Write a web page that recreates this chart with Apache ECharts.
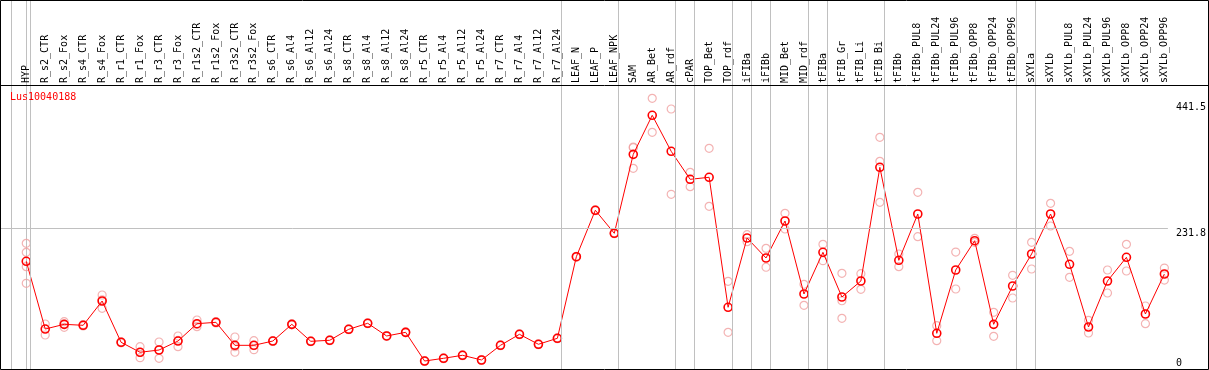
<!DOCTYPE html>
<html>
<head>
<meta charset="utf-8">
<script src="https://cdn.jsdelivr.net/npm/echarts@6/dist/echarts.min.js"></script>
<style>
  html, body { margin: 0; padding: 0; background: #fff; }
  #chart { width: 1209px; height: 370px; }
</style>
</head>
<body>
<div id="chart"></div>
<script>
const geneId = 'Lus10040188';

const categories = [
  'HYP','R_s2_CTR','R_s2_Fox','R_s4_CTR','R_s4_Fox','R_r1_CTR','R_r1_Fox','R_r3_CTR','R_r3_Fox',
  'R_r1s2_CTR','R_r1s2_Fox','R_r3s2_CTR','R_r3s2_Fox','R_s6_CTR','R_s6_Al4','R_s6_Al12','R_s6_Al24',
  'R_s8_CTR','R_s8_Al4','R_s8_Al12','R_s8_Al24','R_r5_CTR','R_r5_Al4','R_r5_Al12','R_r5_Al24',
  'R_r7_CTR','R_r7_Al4','R_r7_Al12','R_r7_Al24','LEAF_N','LEAF_P','LEAF_NPK','SAM','AR_Bet','AR_rdf',
  'cPAR','TOP_Bet','TOP_rdf','iFIBa','iFIBb','MID_Bet','MID_rdf','tFIBa','tFIB_Gr','tFIB_Li','tFIB_Bi',
  'tFIBb','tFIBb_PUL8','tFIBb_PUL24','tFIBb_PUL96','tFIBb_OPP8','tFIBb_OPP24','tFIBb_OPP96',
  'sXYLa','sXYLb','sXYLb_PUL8','sXYLb_PUL24','sXYLb_PUL96','sXYLb_OPP8','sXYLb_OPP24','sXYLb_OPP96'
];

const means = [
  175.4, 58.6, 66.7, 65.0, 106.9, 35.7, 18.5, 22.4, 37.9,
  67.8, 70.2, 30.5, 30.5, 37.9, 66.7, 37.4, 39.2,
  58.1, 68.5, 46.6, 52.9, 3.4, 8.1, 13.3, 5.2,
  30.5, 49.5, 32.3, 42.6, 183.3, 263.4, 223.7, 359.9, 427.2, 365.1,
  316.8, 320.3, 96.1, 215.6, 181.1, 244.9, 119.0, 190.9, 113.8, 141.4, 337.5,
  177.1, 257.0, 51.2, 160.4, 210.9, 66.7, 132.8,
  188.0, 257.0, 170.2, 62.1, 141.4, 182.3, 84.5, 153.5
];

const replicates = [
  [206.4, 190.9, 166.1, 137.5], [67.3, 48.3], [71.2, 61.6, 67.3], [66.2, 63.8], [117.3, 94.3, 109.1],
  [36.6, 34.8], [28.1, 9.1, 18.3], [36.2, 8.1, 22.9], [46.6, 28.1, 39.0],
  [74.2, 62.6, 66.6], [71.4, 69.0], [44.8, 18.5, 28.2], [38.5, 22.9, 30.1],
  [38.6, 37.2], [67.5, 65.9], [38.1, 36.7], [39.9, 38.5],
  [58.8, 57.4], [69.2, 67.8], [47.3, 45.9], [53.6, 52.2],
  [4.1, 2.7], [8.8, 7.4], [14.0, 12.6], [5.9, 4.5],
  [31.2, 29.8], [50.2, 48.8], [33.0, 31.6], [43.3, 41.9],
  [184.0, 182.6], [264.1, 262.7], [224.4, 223.0],
  [371.3, 335.8, 372.5], [456.5, 397.9], [438.1, 291.0],
  [328.9, 304.1], [370.3, 270.3], [140.9, 52.9], [221.3, 209.2], [197.8, 165.1],
  [258.2, 231.1], [135.7, 99.5], [204.7, 176.4], [154.7, 107.4, 77.1], [154.0, 127.1],
  [389.3, 347.9, 277.2], [188.0, 166.1], [294.4, 217.8], [64.3, 38.5], [191.4, 127.6],
  [215.1, 208.2], [87.4, 46.0], [151.3, 112.1],
  [208.2, 162.1], [275.4, 236.3], [192.6, 147.8], [73.6, 51.7], [160.4, 120.7],
  [204.7, 158.7], [98.3, 67.8], [163.8, 143.1]
];

// index of the last category in each group (group separators)
const groupEnds = [-1, 0, 28, 31, 34, 35, 37, 38, 39, 41, 42, 45, 52, 53];

const yTickValues = [0, 231.8];
const yMaxLabel = 441.5;

// ---- build options ----
const SEP_OFFSET = 0.21;
const meanData = means.map((v, i) => [i, v]);
const repData = [];
replicates.forEach((arr, i) => arr.forEach(v => repData.push([i, v])));

const MONO = '"DejaVu Sans Mono", "Liberation Mono", monospace';
const GRAY = '#c0c0c0';

const chart = echarts.init(document.getElementById('chart'), null, { renderer: 'canvas' });

const option = {
  animation: false,
  backgroundColor: '#fff',
  grid: { left: 1, right: 39, top: 0, bottom: 1, containLabel: false },
  xAxis: {
    type: 'value',
    position: 'top',
    offset: -85,
    min: -1.3314,
    max: 60.185,
    axisLine: { show: false },
    axisTick: { show: false },
    splitLine: { show: false },
    axisLabel: {
      customValues: categories.map((_, i) => i),
      formatter: v => categories[Math.round(v)] || '',
      rotate: 90,
      margin: 2,
      fontFamily: MONO,
      fontSize: 10,
      color: '#000',
      hideOverlap: false
    }
  },
  yAxis: {
    type: 'value',
    position: 'right',
    min: -10.35,
    max: 626.08,
    axisLine: { show: true, lineStyle: { color: GRAY, width: 1 } },
    axisTick: { show: false },
    splitLine: { show: false },
    axisLabel: {
      customValues: yTickValues.concat([yMaxLabel]),
      margin: 8,
      fontFamily: MONO,
      fontSize: 10,
      color: '#000',
      formatter: v => (v === yTickValues[1] ? '{g|' + v + '}' : String(v)),
      rich: { g: { padding: [9, 0, 0, 0], fontFamily: MONO, fontSize: 10, color: '#000' } }
    }
  },
  series: [
    {
      type: 'scatter',
      data: repData,
      symbol: 'circle',
      symbolSize: 8,
      itemStyle: { color: 'rgba(0,0,0,0)', borderColor: '#f0a0a0', borderWidth: 1.2 },
      z: 2,
      silent: true,
      markLine: {
        silent: true,
        symbol: ['none', 'none'],
        label: { show: false },
        lineStyle: { color: GRAY, width: 1, type: 'solid' },
        data: groupEnds.map(g => ({ xAxis: g + SEP_OFFSET }))
          .concat([{ yAxis: yTickValues[1] }])
      }
    },
    {
      type: 'line',
      data: meanData,
      symbol: 'circle',
      symbolSize: 8,
      showAllSymbol: true,
      lineStyle: { color: '#ff0000', width: 1 },
      itemStyle: { color: 'rgba(0,0,0,0)', borderColor: '#ff0000', borderWidth: 1.6 },
      z: 3,
      silent: true
    }
  ],
  graphic: [
    {
      type: 'rect',
      shape: { x: 0.5, y: 0.5, width: 1208, height: 369 },
      style: { fill: null, stroke: '#000', lineWidth: 1 },
      z: 10, silent: true
    },
    {
      type: 'line',
      shape: { x1: 0, y1: 85.5, x2: 1209, y2: 85.5 },
      style: { stroke: '#000', lineWidth: 1 },
      z: 10, silent: true
    },
    {
      type: 'text',
      left: 10,
      top: 92,
      style: { text: geneId, fill: '#ff0000', font: '10px ' + MONO },
      z: 10, silent: true
    }
  ]
};

chart.setOption(option);
</script>
</body>
</html>
